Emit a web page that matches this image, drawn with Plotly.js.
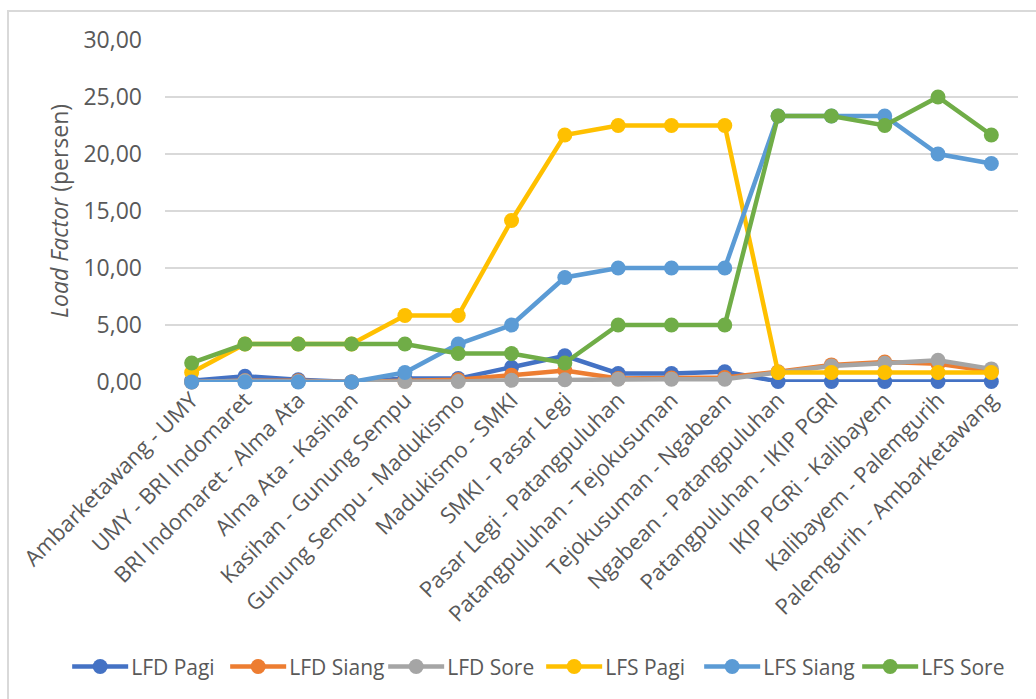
<!DOCTYPE html>
<html>
<head>
<meta charset="utf-8">
<script src="https://cdn.plot.ly/plotly-3.0.1.min.js"></script>
<style>
html,body{margin:0;padding:0;background:#fff;}
#chart{position:absolute;left:0;top:0;width:1036px;height:699px;}
#frame{position:absolute;left:7px;top:10px;width:1040px;height:700px;border-left:2px solid #d9d9d9;border-top:2px solid #d9d9d9;pointer-events:none;}
</style>
</head>
<body>
<div id="chart"></div>
<div id="frame"></div>
<script>
const categories = [
  "Ambarketawang - UMY",
  "UMY - BRI Indomaret",
  "BRI Indomaret - Alma Ata",
  "Alma Ata - Kasihan",
  "Kasihan - Gunung Sempu",
  "Gunung Sempu - Madukismo",
  "Madukismo - SMKI",
  "SMKI - Pasar Legi",
  "Pasar Legi - Patangpuluhan",
  "Patangpuluhan - Tejokusuman",
  "Tejokusuman - Ngabean",
  "Ngabean - Patangpuluhan",
  "Patangpuluhan - IKIP PGRI",
  "IKIP PGRi - Kalibayem",
  "Kalibayem - Palemgurih",
  "Palemgurih - Ambarketawang"
];

const lfdPagi  = [0.10, 0.50, 0.20, 0.00, 0.30, 0.30, 1.30, 2.30, 0.75, 0.75, 0.90, 0.05, 0.05, 0.05, 0.05, 0.05];
const lfdSiang = [0.00, 0.10, 0.10, 0.00, 0.10, 0.20, 0.60, 1.00, 0.30, 0.35, 0.40, 0.90, 1.50, 1.75, 1.60, 0.95];
const lfdSore  = [0.00, 0.10, 0.05, 0.00, 0.05, 0.05, 0.15, 0.20, 0.25, 0.25, 0.25, 0.85, 1.40, 1.65, 1.90, 1.15];
const lfsPagi  = [0.83, 3.33, 3.33, 3.33, 5.83, 5.83, 14.17, 21.67, 22.50, 22.50, 22.50, 0.83, 0.83, 0.83, 0.83, 0.83];
const lfsSiang = [0.00, 0.00, 0.00, 0.00, 0.83, 3.33, 5.00, 9.17, 10.00, 10.00, 10.00, 23.33, 23.33, 23.33, 20.00, 19.17];
const lfsSore  = [1.67, 3.33, 3.33, 3.33, 3.33, 2.50, 2.50, 1.67, 5.00, 5.00, 5.00, 23.33, 23.33, 22.50, 25.00, 21.67];

const seriesNames = ["LFD Pagi", "LFD Siang", "LFD Sore", "LFS Pagi", "LFS Siang", "LFS Sore"];
const seriesValues = [lfdPagi, lfdSiang, lfdSore, lfsPagi, lfsSiang, lfsSore];
const seriesColors = ["#4472C4", "#ED7D31", "#A5A5A5", "#FFC000", "#5B9BD5", "#70AD47"];

const textColor = "#595959";
const fontFam = "'Open Sans', sans-serif";

const traces = seriesNames.map((n, i) => ({
  type: "scatter",
  mode: "lines+markers",
  name: n,
  x: categories,
  y: seriesValues[i],
  line: {color: seriesColors[i], width: 4.5},
  marker: {color: seriesColors[i], size: 15},
  cliponaxis: false
}));

const layout = {
  width: 1036,
  height: 699,
  margin: {l: 165, r: 18, t: 40, b: 317},
  paper_bgcolor: "#ffffff",
  plot_bgcolor: "#ffffff",
  font: {family: fontFam, size: 21, color: textColor},
  showlegend: true,
  legend: {
    orientation: "h",
    x: -0.110, xanchor: "left",
    y: -0.833, yanchor: "middle",
    font: {family: fontFam, size: 21, color: textColor},
    itemwidth: 50,
    entrywidth: 93,
    tracegroupgap: 0
  },
  xaxis: {
    type: "category",
    range: [-0.5, 15.5],
    tickangle: -45,
    showgrid: false,
    showline: false,
    zeroline: false,
    ticks: "",
    tickfont: {family: fontFam, size: 22, color: textColor},
    automargin: false
  },
  yaxis: {
    range: [0, 30],
    tickvals: [0, 5, 10, 15, 20, 25, 30],
    ticktext: ["0,00", "5,00", "10,00", "15,00", "20,00", "25,00", "30,00"],
    showgrid: true,
    gridcolor: "#d9d9d9",
    gridwidth: 1.5,
    zeroline: false,
    showline: false,
    ticks: "",
    ticklabelstandoff: 22,
    tickfont: {family: fontFam, size: 23, color: textColor},
    title: {
      text: "<i>Load Factor</i> (persen)",
      font: {family: fontFam, size: 23, color: textColor},
      standoff: 8
    },
    automargin: false
  }
};

Plotly.newPlot("chart", traces, layout, {displayModeBar: false, staticPlot: true}).then(gd => {
  // lengthen legend symbol lines to match the reference style
  gd.querySelectorAll(".legend .legendlines path").forEach(p => p.setAttribute("d", "M1,0h56"));
  gd.querySelectorAll(".legend .legendpoints path.scatterpts").forEach(p => p.setAttribute("transform", "translate(29,0)"));
});
</script>
</body>
</html>
